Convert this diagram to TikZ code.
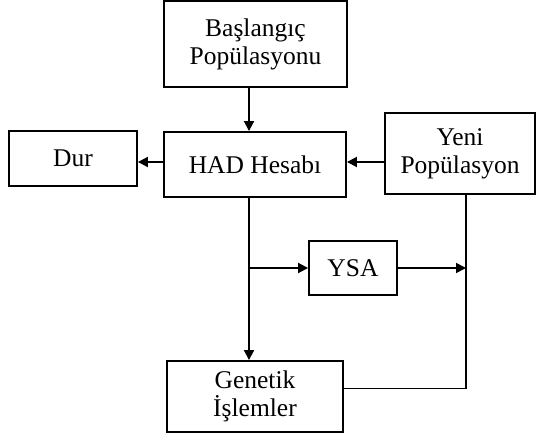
\documentclass[tikz,border=0pt]{standalone}
\usepackage{fontspec}
\setmainfont{Liberation Serif}
\usetikzlibrary{arrows.meta,positioning}
\tikzstyle{every node}+=[inner sep=0.5mm,font=\fontsize{25.5}{28}\selectfont]
\tikzstyle{every path}+=[line width=1.9pt]
\tikzstyle{block}=[draw,rectangle,align=center]
\tikzstyle{arr}=[-{Triangle[length=10pt,width=10pt]}]

\begin{document}
\begin{tikzpicture}[x=1pt,y=-1pt]
    \useasboundingbox (0,0) rectangle (537,438);

    % boxes
    \node[block,minimum width=183,minimum height=86] (start) at (255.5,44) {Başlangıç\\Popülasyonu};
    \node[block,minimum width=182,minimum height=65] (had) at (255,164.5) {HAD Hesabı};
    \node[block,minimum width=128,minimum height=55] (dur) at (73,158.5) {Dur};
    \node[block,minimum width=150,minimum height=81] (yeni) at (460,153.5) {Yeni\\Popülasyon};
    \node[block,minimum width=88,minimum height=54] (ysa) at (353,268) {YSA};
    \node[block,minimum width=176,minimum height=71] (gen) at (255,396.5) {Genetik\\İşlemler};

    % trunk lines
    \coordinate (lx) at (249,0);
    \coordinate (rx) at (466,0);

    \draw[arr] (start.south -| lx) -- (had.north -| lx);
    \draw[arr] (had.west |- 0,162) -- (dur.east |- 0,162);
    \draw[arr] (yeni.west |- 0,162) -- (had.east |- 0,162);
    \draw[arr] (had.south -| lx) -- (gen.north -| lx);
    \draw[arr] (ysa.west -| lx) -- (ysa.west);
    \draw[arr] (ysa.east) -- (ysa.east -| rx);
    \draw ([yshift=8pt]gen.east) -| (yeni.south -| rx);
\end{tikzpicture}
\end{document}
